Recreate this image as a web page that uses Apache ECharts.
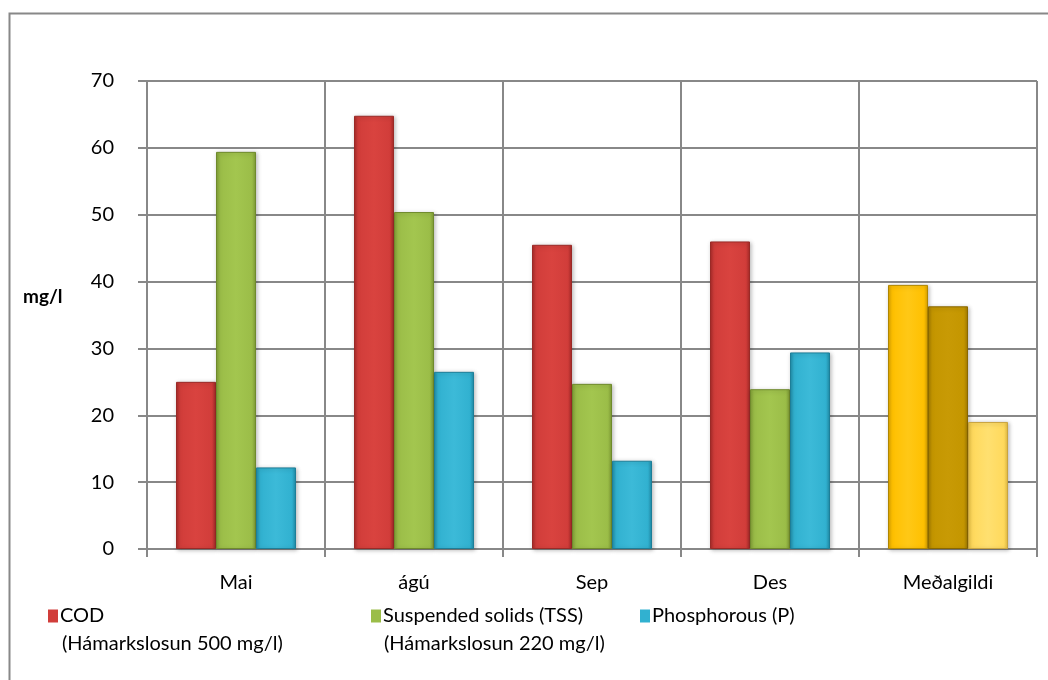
<!DOCTYPE html>
<html>
<head>
<meta charset="utf-8">
<script src="https://cdn.jsdelivr.net/npm/echarts@6/dist/echarts.min.js"></script>
<style>
html,body{margin:0;padding:0;background:#fff;}
#chart{width:1048px;height:680px;}
</style>
</head>
<body>
<div id="chart"></div>
<script>
const categories = ['Mai', 'ágú', 'Sep', 'Des', 'Meðalgildi'];
const codValues = [25.0, 64.8, 45.5, 46.0, 39.5];
const tssValues = [59.4, 50.4, 24.7, 23.9, 36.3];
const pValues = [12.2, 26.5, 13.2, 29.4, 19.0];
const seriesNames = ['COD', 'Suspended solids (TSS)', 'Phosphorous (P)'];
const limitNotes = ['(Hámarkslosun 500 mg/l)', '(Hámarkslosun 220 mg/l)'];
const yAxisTitle = 'mg/l';
const yTicks = [0, 10, 20, 30, 40, 50, 60, 70];

const FONT = 'Lato, "Open Sans", sans-serif';

function bevel(dark, mid, light) {
  return {
    type: 'linear', x: 0, y: 0, x2: 1, y2: 0,
    colorStops: [
      {offset: 0, color: dark},
      {offset: 0.1, color: mid},
      {offset: 0.5, color: light},
      {offset: 0.9, color: mid},
      {offset: 1, color: dark}
    ]
  };
}

const baseStyles = [
  {color: bevel('#a52a27', '#d13d3a', '#d9433f'), borderColor: '#9a2a27'},
  {color: bevel('#7f9c35', '#9bbd48', '#a3c64f'), borderColor: '#6f8a2c'},
  {color: bevel('#1f8aa5', '#31b1d0', '#3cbad8'), borderColor: '#1d7e98'}
];
const avgStyles = [
  {color: bevel('#d9a300', '#ffc000', '#ffc816'), borderColor: '#b08600'},
  {color: bevel('#a37b00', '#c49600', '#c89a05'), borderColor: '#8a6800'},
  {color: bevel('#e3bd42', '#ffd95c', '#ffe070'), borderColor: '#c9a440'}
];
const legendColors = ['#d13d3a', '#9bbd48', '#31b1d0'];

function buildData(values, idx) {
  return values.map((v, i) => {
    const st = (i === values.length - 1) ? avgStyles[idx] : baseStyles[idx];
    return {value: v, itemStyle: {color: st.color, borderColor: st.borderColor, borderWidth: 1,
      shadowColor: 'rgba(0,0,0,0.25)', shadowBlur: 4, shadowOffsetX: 1, shadowOffsetY: 1}};
  });
}

const allValues = [codValues, tssValues, pValues];

const series = seriesNames.map((name, idx) => ({
  name: name,
  type: 'bar',
  barWidth: 40,
  barGap: '0%',
  color: legendColors[idx],
  data: buildData(allValues[idx], idx)
}));

const legendLefts = [48, 371, 640];
const legends = seriesNames.map((name, idx) => ({
  data: [{name: name, itemStyle: {color: legendColors[idx]}}],
  left: legendLefts[idx],
  top: 606,
  icon: 'rect',
  itemWidth: 10,
  itemHeight: 13,
  selectedMode: false,
  padding: 0,
  textStyle: {fontFamily: FONT, fontSize: 20, color: '#000', padding: [0, 0, 0, -3]}
}));

const chart = echarts.init(document.getElementById('chart'), null, {renderer: 'canvas'});
chart.setOption({
  animation: false,
  backgroundColor: '#fff',
  grid: {left: 147, right: 11, top: 81, bottom: 131},
  legend: legends,
  xAxis: {
    type: 'category',
    data: categories,
    boundaryGap: true,
    axisLine: {show: true, lineStyle: {color: '#888', width: 2}},
    axisTick: {show: true, length: 8, lineStyle: {color: '#888', width: 2}},
    axisLabel: {fontFamily: FONT, fontSize: 20, color: '#000', margin: 24},
    splitLine: {show: true, lineStyle: {color: '#888', width: 2}}
  },
  yAxis: {
    type: 'value',
    min: yTicks[0],
    max: yTicks[yTicks.length - 1],
    interval: 10,
    axisLine: {show: true, lineStyle: {color: '#888', width: 2}},
    axisTick: {show: true, length: 9, lineStyle: {color: '#888', width: 2}},
    axisLabel: {fontFamily: FONT, fontSize: 20, color: '#000', margin: 33},
    splitLine: {show: true, lineStyle: {color: '#888', width: 2}}
  },
  graphic: [
    {type: 'rect', left: 7, top: 11, shape: {width: 1100, height: 720},
      style: {fill: 'none', stroke: '#888', lineWidth: 2}, silent: true, z: -1},
    {type: 'text', left: 23, top: 287, style: {text: yAxisTitle, font: 'bold 19px ' + FONT, fill: '#000'}},
    {type: 'text', left: 62, top: 634, style: {text: limitNotes[0], font: '20px ' + FONT, fill: '#000'}},
    {type: 'text', left: 384, top: 634, style: {text: limitNotes[1], font: '20px ' + FONT, fill: '#000'}}
  ],
  series: series
});
</script>
</body>
</html>
